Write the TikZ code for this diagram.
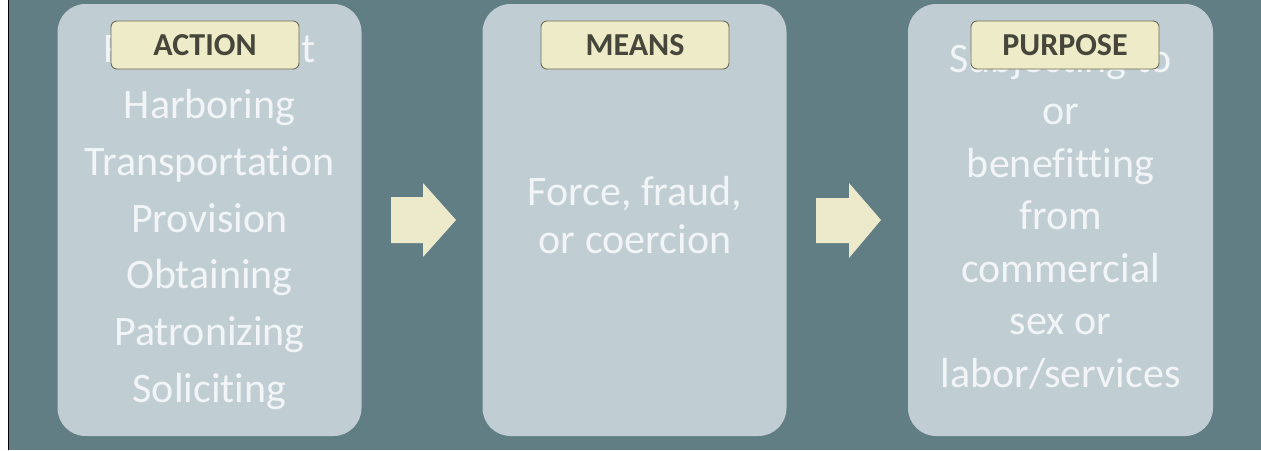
\documentclass[tikz,border=0pt]{standalone}
\usepackage{fontspec}
\setmainfont[Ligatures={NoCommon}]{Carlito}
\definecolor{bgc}{RGB}{98,126,133}
\definecolor{boxc}{RGB}{192,205,211}
\definecolor{tagc}{RGB}{238,236,200}
\definecolor{tagline}{RGB}{112,108,88}
\definecolor{tagtext}{RGB}{70,70,58}
\definecolor{bodytext}{RGB}{242,245,247}
\definecolor{arrowc}{RGB}{236,234,202}
\begin{document}
\begin{tikzpicture}[x=1pt,y=-1pt,
  panel/.style={fill=boxc, draw=none, rounded corners=28pt, minimum width=304pt, minimum height=432pt, inner sep=0pt},
  tag/.style={fill=tagc, draw=tagline, line width=0.9pt, rounded corners=6pt, minimum width=188pt, minimum height=48pt, inner sep=0pt, text=tagtext, font=\fontsize{32}{36}\selectfont\bfseries},
  body/.style={anchor=base, text=bodytext, inner sep=0pt, font=\fontsize{42}{50}\selectfont},
  blockarrow/.style={fill=arrowc, draw=none}]
\useasboundingbox (0,0) rectangle (1261,450);
% background
\fill[white] (0,0) rectangle (1261,450);
\fill[bgc] (9,0) rectangle (1261,450);
\fill[black] (7.5,0) rectangle (9,450);
% panels
\node[panel] (box1) at (209.5,220) {};
\node[panel] (box2) at (634.5,220) {};
\node[panel, minimum width=305pt] (box3) at (1060.5,220) {};
% panel 1 text
\foreach \t [count=\i from 0] in {Recruitment,Harboring,Transportation,Provision,Obtaining,Patronizing,Soliciting}
  \node[body] (a\i) at (209.5,{62+56.7*\i}) {\t};
% panel 2 text
\node[body] (b0) at (635,205) {Force, fraud,};
\node[body] (b1) at (635,253) {or coercion};
% panel 3 text
\foreach \t [count=\i from 0] in {Subjecting to,or,benefitting,from,commercial,sex or,labor/services}
  \node[body] (c\i) at (1060.5,{72+52.5*\i}) {\t};
% labels
\node[tag] (lab1) at (205,45) {ACTION};
\node[tag] (lab2) at (635,45) {MEANS};
\node[tag] (lab3) at (1065,45) {PURPOSE};
% block arrows
\fill[blockarrow] (391,197) -- (423,197) -- (423,183) -- (456,220) -- (423,257) -- (423,243) -- (391,243) -- cycle;
\fill[blockarrow] (816,198) -- (849,198) -- (849,183) -- (881,220) -- (849,258) -- (849,243) -- (816,243) -- cycle;
\end{tikzpicture}
\end{document}
